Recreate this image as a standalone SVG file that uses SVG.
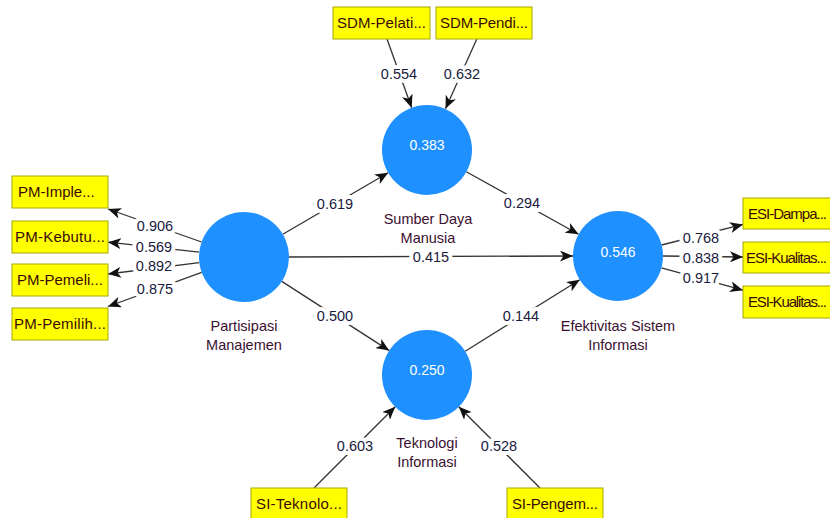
<svg xmlns="http://www.w3.org/2000/svg" width="830" height="518" viewBox="0 0 830 518">
<defs>
<marker id="arr" viewBox="0 0 13 11" refX="13" refY="5.5" markerWidth="13" markerHeight="11" markerUnits="userSpaceOnUse" orient="auto">
<path d="M0,0 L13,5.5 L0,11 L3.5,5.5 Z" fill="#111"/>
</marker>
</defs>
<style>
.bg{fill:#ffffff}
.ln{stroke:#333;stroke-width:1.3;fill:none;marker-end:url(#arr)}
.box{fill:#ffff00;stroke:#a8a800;stroke-width:1}
.bt{font-family:"Liberation Sans",Arial,sans-serif;font-size:15px;fill:#3a0a0a}
.lv{fill:#1e90ff}
.lt{font-family:"Liberation Sans",Arial,sans-serif;font-size:14.5px;fill:#3a1030;text-anchor:middle}
.vt{font-family:"Liberation Sans",Arial,sans-serif;font-size:14px;fill:#ffffff;text-anchor:middle}
.nt{font-family:"Liberation Sans",Arial,sans-serif;font-size:14.5px;fill:#1a1a40;text-anchor:middle;stroke:#ffffff;stroke-width:8;paint-order:stroke;stroke-linejoin:round}
</style>
<rect class="bg" x="0" y="0" width="830" height="518"/>
<g id="connectors">
<line class="ln" x1="201.6" y1="242" x2="108" y2="209"/>
<line class="ln" x1="199.3" y1="252.1" x2="108" y2="242.2"/>
<line class="ln" x1="199.3" y1="262.6" x2="108" y2="274"/>
<line class="ln" x1="201.7" y1="272.4" x2="108" y2="306.5"/>
<line class="ln" x1="387" y1="39" x2="411.7" y2="107.7"/>
<line class="ln" x1="476.8" y1="39" x2="445.5" y2="108.8"/>
<line class="ln" x1="282.8" y1="234.3" x2="388.2" y2="172.7"/>
<line class="ln" x1="466.3" y1="171.8" x2="578.6" y2="234.2"/>
<line class="ln" x1="289" y1="257" x2="573" y2="256"/>
<line class="ln" x1="281.8" y1="281.4" x2="389.2" y2="350.6"/>
<line class="ln" x1="465.2" y1="351.2" x2="579.8" y2="279.8"/>
<line class="ln" x1="314" y1="488" x2="395.2" y2="406.8"/>
<line class="ln" x1="540" y1="488" x2="458.8" y2="406.8"/>
<line class="ln" x1="661.6" y1="245" x2="743" y2="224.4"/>
<line class="ln" x1="663" y1="256" x2="743" y2="257"/>
<line class="ln" x1="661.4" y1="267.9" x2="743" y2="290.2"/>
<text class="nt" x="155" y="231">0.906</text>
<text class="nt" x="154" y="252">0.569</text>
<text class="nt" x="154" y="271">0.892</text>
<text class="nt" x="155" y="294">0.875</text>
<text class="nt" x="399" y="79">0.554</text>
<text class="nt" x="462" y="79">0.632</text>
<text class="nt" x="335" y="209">0.619</text>
<text class="nt" x="522" y="208">0.294</text>
<text class="nt" x="431" y="262">0.415</text>
<text class="nt" x="335" y="321">0.500</text>
<text class="nt" x="521" y="321">0.144</text>
<text class="nt" x="355" y="451">0.603</text>
<text class="nt" x="499" y="451">0.528</text>
<text class="nt" x="701" y="243">0.768</text>
<text class="nt" x="701" y="263">0.838</text>
<text class="nt" x="701" y="283">0.917</text>
</g>
<g id="pm">
<circle class="lv" cx="244" cy="257" r="45"/>
<text class="lt" x="244" y="331">Partisipasi</text>
<text class="lt" x="244" y="350">Manajemen</text>
</g>
<g id="sdm">
<circle class="lv" cx="427" cy="150" r="45"/>
<text class="vt" x="427" y="150">0.383</text>
<text class="lt" x="428" y="224">Sumber Daya</text>
<text class="lt" x="428" y="243">Manusia</text>
</g>
<g id="esi">
<circle class="lv" cx="618" cy="256" r="45"/>
<text class="vt" x="618" y="257">0.546</text>
<text class="lt" x="618" y="331">Efektivitas Sistem</text>
<text class="lt" x="618" y="350">Informasi</text>
</g>
<g id="ti">
<circle class="lv" cx="427" cy="375" r="45"/>
<text class="vt" x="427" y="375">0.250</text>
<text class="lt" x="427" y="448">Teknologi</text>
<text class="lt" x="427" y="467">Informasi</text>
</g>
<g id="pm-imple"><rect class="box" x="12" y="176" width="96" height="32"/><text class="bt" x="18" y="197">PM-Imple...</text></g>
<g id="pm-kebutu"><rect class="box" x="12" y="221" width="96" height="32"/><text class="bt" x="15" y="242" textLength="90">PM-Kebutu...</text></g>
<g id="pm-pemeli"><rect class="box" x="12" y="264" width="96" height="32"/><text class="bt" x="17" y="285">PM-Pemeli...</text></g>
<g id="pm-pemilih"><rect class="box" x="12" y="308" width="96" height="32"/><text class="bt" x="14" y="329" textLength="92">PM-Pemilih...</text></g>
<g id="sdm-pelati"><rect class="box" x="333" y="7" width="97" height="32"/><text class="bt" x="337" y="28" textLength="89">SDM-Pelati...</text></g>
<g id="sdm-pendi"><rect class="box" x="436" y="7" width="96" height="32"/><text class="bt" x="440" y="28" textLength="88">SDM-Pendi...</text></g>
<g id="esi-dampa"><rect class="box" x="743" y="198" width="92" height="31"/><text class="bt" x="748" y="219" textLength="79">ESI-Dampa...</text></g>
<g id="esi-kualitas1"><rect class="box" x="743" y="242" width="92" height="31"/><text class="bt" x="746" y="263" textLength="81">ESI-Kualitas...</text></g>
<g id="esi-kualitas2"><rect class="box" x="743" y="286" width="92" height="32"/><text class="bt" x="748" y="307" textLength="79">ESI-Kualitas...</text></g>
<g id="si-teknolo"><rect class="box" x="251" y="488" width="96" height="36"/><text class="bt" x="256" y="509" textLength="86">SI-Teknolo...</text></g>
<g id="si-pengem"><rect class="box" x="507" y="488" width="96" height="36"/><text class="bt" x="512" y="509" textLength="86">SI-Pengem...</text></g>
</svg>
